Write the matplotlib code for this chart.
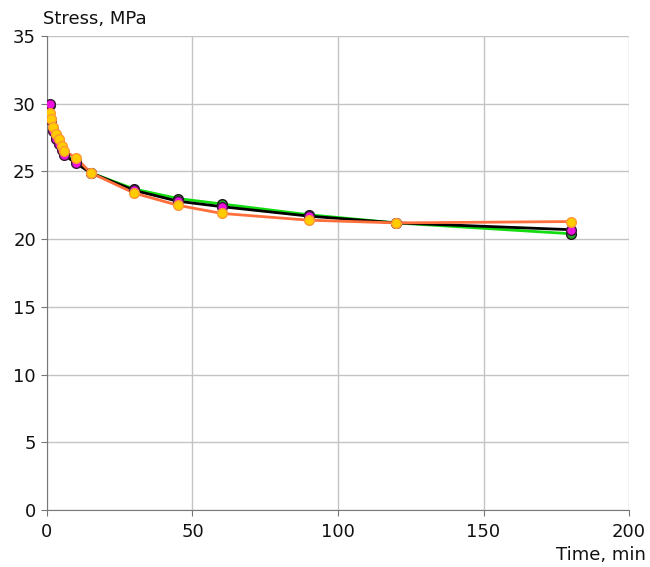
import matplotlib.pyplot as plt

# Relaxation data
time = [1, 1.5, 2, 3, 4, 5, 6, 10, 15, 30, 45, 60, 90, 120, 180]
stress_green = [29.9, 28.8, 28.1, 27.5, 27.1, 26.7, 26.3, 25.7, 24.9, 23.7, 23.0, 22.6, 21.8, 21.2, 20.4]
stress_black = [30.0, 28.8, 28.0, 27.4, 27.0, 26.6, 26.2, 25.6, 24.9, 23.6, 22.8, 22.4, 21.7, 21.2, 20.7]
stress_orange = [29.3, 28.9, 28.3, 27.8, 27.4, 26.9, 26.5, 26.0, 24.9, 23.4, 22.5, 21.9, 21.4, 21.2, 21.3]

fig = plt.figure(figsize=(6.5, 5.67), dpi=100)
ax = fig.add_axes([0.0723, 0.1005, 0.8954, 0.836])

ax.plot(time, stress_green, color="#11dd11", lw=2, zorder=3)
ax.plot(time, stress_black, color="black", lw=2, zorder=3)
ax.plot(time, stress_orange, color="#ff6f3c", lw=2, zorder=3)

ax.plot(time, stress_green, ls="none", marker="o", ms=7, mfc="#22aa22", mec="#1a1a1a", mew=1, zorder=4)
ax.plot(time, stress_black, ls="none", marker="o", ms=7, mfc="#ee11dd", mec="#3a1a3a", mew=1, zorder=5)
ax.plot(time, stress_orange, ls="none", marker="o", ms=7, mfc="#ffcc00", mec="#ff9933", mew=1, zorder=6)

ax.set_xlim(0, 200)
ax.set_ylim(0, 35)
ax.set_xticks(range(0, 201, 50))
ax.set_yticks(range(0, 36, 5))
ax.grid(True, color="#c4c4c4", lw=1)
ax.set_axisbelow(True)
for s in ["top", "right"]:
    ax.spines[s].set_visible(False)
ax.spines["left"].set_color("#777777")
ax.spines["bottom"].set_color("#777777")
ax.tick_params(length=4, color="#777777", labelsize=13, colors="#111111")
ax.tick_params(axis="x", pad=5)
ax.tick_params(axis="y", pad=4)

fig.text(0.066, 0.966, "Stress, MPa", fontsize=13, color="#111111", va="center")
fig.text(0.993, 0.022, "Time, min", fontsize=13, color="#111111", ha="right", va="center")

fig.savefig("out.png")
